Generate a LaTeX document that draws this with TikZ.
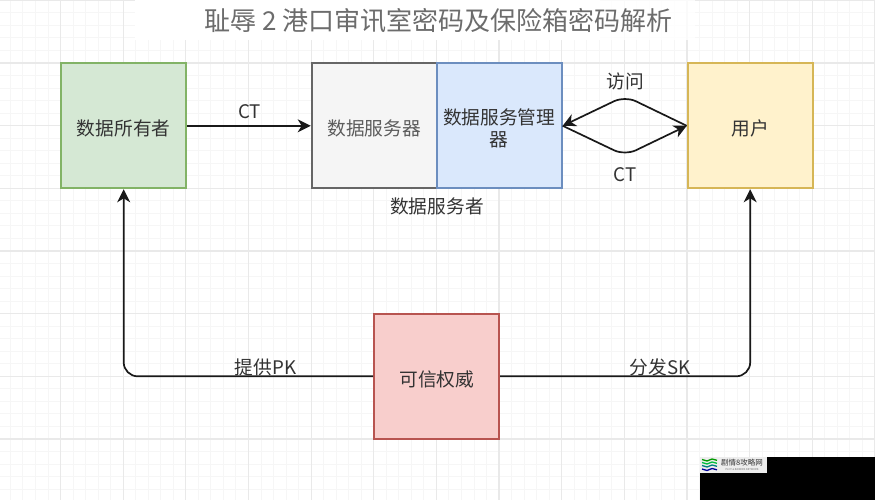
\documentclass[tikz,border=0pt]{standalone}
\usepackage{fontspec}
\setmainfont{Noto Sans CJK SC}
\usetikzlibrary{arrows.meta}
\definecolor{gridminor}{HTML}{F6F6F6}
\definecolor{gridmajor}{HTML}{E9E9E9}
\definecolor{ink}{HTML}{333333}
\tikzset{
  every node/.style={text=ink,font=\fontsize{18.7}{23}\selectfont},
  box/.style={draw,line width=2pt,minimum width=125pt,minimum height=125pt,inner sep=2pt,align=center,text width=119pt,execute at begin node={\rule{0pt}{21pt}}},
  conn/.style={draw=black!90,line width=1.7pt,-{Stealth[length=13pt,width=13pt,inset=4pt]}},
  lbl/.style={inner sep=0pt}
}
\begin{document}
\begin{tikzpicture}[x=1pt,y=-1pt]
\useasboundingbox (0,0) rectangle (875,500);
\fill[white] (0,0) rectangle (875,500);
% grid
\foreach \i in {-4,...,70}{
  \draw[gridminor,line width=.9pt] ({60.5+12.53*\i},0) -- ({60.5+12.53*\i},500);
}
\foreach \i in {-5,...,35}{
  \draw[gridminor,line width=.9pt] (0,{63+12.53*\i}) -- (875,{63+12.53*\i});
}
\foreach \i in {-1,...,13}{
  \draw[gridmajor,line width=1.2pt] ({60.5+62.65*\i},0) -- ({60.5+62.65*\i},500);
}
\foreach \i in {-1,...,7}{
  \draw[gridmajor,line width=1.2pt] (0,{63+62.65*\i}) -- (875,{63+62.65*\i});
}
\fill[white] (135,0) rectangle (600,40);
\fill[white,fill opacity=.8] (600,0) rectangle (695,40);
% title
\node[lbl,text=ink!72,font=\fontsize{26}{30}\selectfont] (title) at (438.5,21) {耻辱 2 港口审讯室密码及保险箱密码解析};
% boxes
\node[box,fill={rgb,255:red,213;green,232;blue,212},draw={rgb,255:red,130;green,179;blue,102}] (owner) at (123.7,125.8) {数据所有者};
\node[box,fill={rgb,255:red,245;green,245;blue,245},draw={rgb,255:red,102;green,102;blue,102},text=ink!80] (server) at (374.2,125.8) {数据服务器};
\node[box,fill={rgb,255:red,218;green,232;blue,252},draw={rgb,255:red,108;green,142;blue,191}] (mgr) at (499.2,125.8) {数据服务管理\\[-1.5pt]器};
\node[box,fill={rgb,255:red,255;green,242;blue,204},draw={rgb,255:red,214;green,182;blue,86}] (user) at (750.2,125.8) {用户};
\node[box,fill={rgb,255:red,248;green,206;blue,204},draw={rgb,255:red,184;green,84;blue,80}] (auth) at (436.7,376.3) {可信权威};
% connectors
\draw[conn] (owner.east) -- (server.west);
\draw[conn,rounded corners=12pt] (user.west) -- (625,96) -- (mgr.east);
\draw[conn,rounded corners=12pt] (mgr.east) -- (625,155.5) -- (user.west);
\draw[conn,rounded corners=14pt] (auth.west) -| (owner.south);
\draw[conn,rounded corners=14pt] (auth.east) -| (user.south);
% labels
\node[lbl] (l1) at (249.5,112) {CT};
\node[lbl] (l2) at (625,81) {访问};
\node[lbl] (l3) at (625,174.5) {CT};
\node[lbl] (l4) at (437,206) {数据服务者};
\node[lbl] (l5) at (265.5,367) {提供PK};
\node[lbl] (l6) at (660,367) {分发SK};
% watermark
\fill[black] (700,457) rectangle (875,500);
\fill[white!93!black] (700,457) rectangle (766.5,473);
\foreach \yy/\cc in {459.5/green!60!black,462.5/green!50!teal,465.5/teal,469/blue!60!black}{
  \draw[\cc,line width=1.3pt] (702,\yy) -- (707,\yy+1.5) -- (712,\yy-.5) -- (717,\yy+.8);
}
\node[lbl,text=black!80,font=\fontsize{7.5}{8}\selectfont] (wm) at (742,463) {剧情8攻略网};
\node[lbl,text=black!55,font=\fontsize{2.6}{3}\selectfont] (wm2) at (742,469.5) {PLOT \& RAIDERS NETWORK};
\end{tikzpicture}
\end{document}
